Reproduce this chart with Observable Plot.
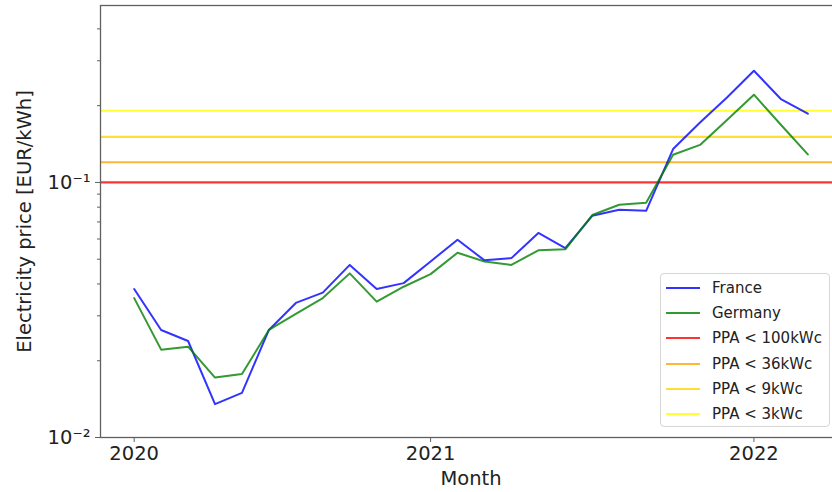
<!DOCTYPE html>
<html>
<head>
<meta charset="utf-8">
<script src="https://cdn.jsdelivr.net/npm/d3@7"></script>
<script src="https://cdn.jsdelivr.net/npm/@observablehq/plot@0.6"></script>
<style>
  html, body { margin: 0; padding: 0; background: #fff; }
  #wrap { position: relative; width: 832px; height: 492px; overflow: hidden; font-family: "DejaVu Sans", sans-serif; }
  #wrap svg { overflow: hidden; }
  .legend { position: absolute; left: 660px; top: 273px; width: 170px; height: 154px; box-sizing: border-box;
    border: 1px solid #d6d6d6; border-radius: 4px; background: rgba(255,255,255,0.8); }
  .legend .row { position: absolute; left: 0; height: 20px; display: flex; align-items: center; font-size: 15px; color: #222; }
  .legend .sw { width: 34px; height: 0; border-top: 2px solid; margin-left: 5px; margin-right: 12px; }
</style>
</head>
<body>
<div id="wrap"></div>
<script>
// ---- data ----
const months = ["2020-02","2020-03","2020-04","2020-05","2020-06","2020-07","2020-08","2020-09","2020-10","2020-11","2020-12",
  "2021-01","2021-02","2021-03","2021-04","2021-05","2021-06","2021-07","2021-08","2021-09","2021-10","2021-11","2021-12",
  "2022-01","2022-02","2022-03"];
const france = [0.0382,0.0264,0.0239,0.01352,0.01497,0.0264,0.0337,0.0370,0.0475,0.0382,0.0403,
  0.0490,0.0596,0.0495,0.0505,0.0634,0.0553,0.0740,0.0782,0.0774,0.1352,0.1718,0.2154,
  0.2742,0.2123,0.186];
const germany = [0.0352,0.0221,0.0227,0.01718,0.01774,0.0264,0.0305,0.0352,0.0440,0.0341,0.0390,
  0.0437,0.0530,0.0490,0.0475,0.0542,0.0547,0.0745,0.0818,0.0833,0.1284,0.1403,0.1757,
  0.2208,0.1684,0.1288];
const ppaNames = ["PPA < 100kWc","PPA < 36kWc","PPA < 9kWc","PPA < 3kWc"];
const ppaValues = [0.100, 0.120, 0.151, 0.191];
const ppaColors = ["red","orange","gold","yellow"];
const seriesNames = ["France","Germany"];
const seriesColors = ["blue","green"];
const tickMonths = ["2020-02","2021-01","2022-01"];
const tickLabels = ["2020","2021","2022"];
const yMajor = [0.01, 0.1];
const yMajorLabels = ["10\u207B\u00B2","10\u207B\u00B9"];
const yMinor = [0.02,0.03,0.04,0.05,0.06,0.07,0.08,0.09,0.2,0.3,0.4];

// ---- build tables ----
const rows = [];
months.forEach((m, i) => {
  rows.push({i, month: m, country: "France", v: france[i]});
  rows.push({i, month: m, country: "Germany", v: germany[i]});
});
const ppa = ppaValues.map((v, k) => ({name: ppaNames[k], v, color: ppaColors[k]}));
const tickIdx = tickMonths.map(m => months.indexOf(m));

const spine = "#606060";
const chart = Plot.plot({
  width: 832, height: 492,
  marginLeft: 100, marginTop: 5, marginBottom: 55, marginRight: -9,
  x: {type: "linear", domain: [-1.25, 26.25]},
  y: {type: "log", domain: [0.01, 0.494]},
  style: {fontFamily: "DejaVu Sans", fontSize: "19.5px", color: "#222", background: "white"},
  marks: [
    Plot.ruleY(ppa, {y: "v", stroke: "color", strokeWidth: 2.2, strokeOpacity: 0.8}),
    Plot.line(rows, {x: "i", y: "v", z: "country",
      stroke: d => seriesColors[seriesNames.indexOf(d.country)], strokeWidth: 2, strokeOpacity: 0.8}),
    Plot.frame({stroke: spine, strokeWidth: 1.3}),
    Plot.axisY(yMinor, {tickSize: 3, tickFormat: () => "", label: null, stroke: spine}),
    Plot.axisY(yMajor, {tickSize: 5, tickPadding: 5, label: null, stroke: spine,
      tickFormat: d => yMajorLabels[yMajor.indexOf(d)]}),
    Plot.axisX(tickIdx, {tickSize: 5, tickPadding: 4, label: null, stroke: spine,
      tickFormat: i => tickLabels[tickIdx.indexOf(i)]}),
    Plot.text(["Month"], {frameAnchor: "bottom", dy: 41, lineAnchor: "middle", textAnchor: "middle",
      text: d => d, fontSize: 19.5}),
    Plot.text(["Electricity price [EUR/kWh]"], {frameAnchor: "left", dx: -76, rotate: -90,
      textAnchor: "middle", lineAnchor: "middle", text: d => d, fontSize: 19.5})
  ]
});
const wrap = document.getElementById("wrap");
wrap.appendChild(chart);

// ---- legend (inside the axes, lower right) ----
const legend = document.createElement("div");
legend.className = "legend";
const items = seriesNames.map((n, k) => ({name: n, color: seriesColors[k]}))
  .concat(ppaNames.map((n, k) => ({name: n, color: ppaColors[k]})));
items.forEach((it, k) => {
  const row = document.createElement("div");
  row.className = "row";
  row.style.top = (4 + k * 25.2) + "px";
  const sw = document.createElement("div");
  sw.className = "sw";
  sw.style.borderColor = it.color;
  sw.style.opacity = 0.8;
  const tx = document.createElement("span");
  tx.textContent = it.name;
  row.appendChild(sw);
  row.appendChild(tx);
  legend.appendChild(row);
});
wrap.appendChild(legend);
</script>
</body>
</html>
